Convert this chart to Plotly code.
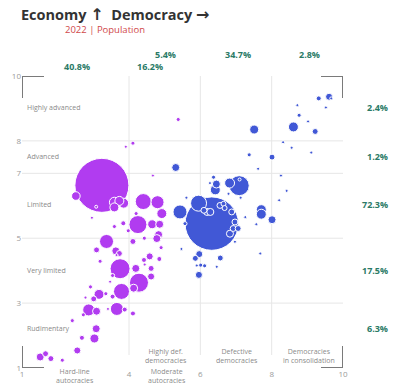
import plotly.graph_objects as go

# ---------------- data ----------------
# Autocracies (purple): x = democracy score, y = economy score, pop = population (millions)
aut_x = [3.24,4.11,3.91,5.38,2.51,3.08,3.59,3.73,3.85,3.59,2.96,4.40,4.80,4.92,4.67,4.20,4.25,4.65,4.86,3.84,
         3.59,3.98,4.43,4.83,4.78,4.11,4.90,3.37,3.09,3.63,3.73,3.65,3.19,3.75,3.54,4.19,4.42,4.58,4.44,4.62,
         4.62,4.85,4.28,4.13,3.79,3.54,3.47,2.92,3.16,3.01,3.35,2.78,2.87,3.09,2.72,3.41,3.66,3.88,4.11,2.41,
         3.08,3.03,2.68,2.55,1.51,1.66,1.81,2.13]
aut_y = [6.63,7.93,7.82,8.66,6.30,5.97,6.11,6.15,6.08,5.95,5.63,6.13,6.11,5.76,6.93,5.76,5.42,5.43,5.43,5.46,
         5.36,5.23,5.00,5.11,4.99,4.90,4.71,4.90,4.64,4.61,4.53,4.48,4.29,4.06,3.85,4.07,4.33,4.44,4.19,4.07,
         3.82,4.36,3.63,3.46,3.36,3.20,3.66,3.50,3.27,3.13,3.29,3.17,2.79,2.75,2.64,2.82,2.82,2.80,2.68,2.46,
         2.21,1.91,1.93,1.54,1.34,1.44,1.29,1.24]
aut_pop = [1412,8,2,8,36,3,48,39,48,39,4,124,82,48,4,8,157,39,31,12,
           8,8,8,31,31,17,8,95,17,31,17,4,8,194,8,31,12,24,4,17,
           24,12,175,31,124,12,2,8,48,17,8,2,70,31,8,4,82,12,12,8,
           31,39,12,24,31,17,17,8]

# Democracies (blue)
dem_x = [6.32,5.31,9.61,9.67,9.32,9.52,8.72,8.77,9.02,8.61,9.22,7.51,8.32,8.56,9.11,7.37,8.01,7.62,8.26,8.42,
         8.21,7.71,7.71,8.01,7.57,7.26,7.09,6.82,7.10,6.45,6.37,6.27,6.42,6.79,7.13,5.61,5.95,5.43,5.57,6.19,
         6.28,6.10,6.55,6.65,6.68,6.88,6.97,6.92,6.83,7.06,6.97,7.68,5.97,5.86,6.56,6.01,6.12,5.90,6.46,5.96,
         5.47]
dem_y = [5.45,7.18,9.36,9.31,9.31,9.03,9.10,8.79,8.60,8.43,8.29,8.35,7.96,7.79,7.64,7.57,7.50,7.14,6.93,6.46,
         6.17,5.88,5.74,5.57,5.43,5.65,6.62,6.70,6.81,6.67,6.88,6.70,6.49,6.37,6.25,6.25,6.08,5.81,5.45,5.81,
         5.81,5.86,6.01,6.06,5.93,5.81,5.50,5.30,5.14,5.30,4.89,4.53,4.51,4.38,4.39,4.17,4.15,4.16,4.12,3.87,
         4.67]
dem_pop = [1380,31,24,2,12,3,2,8,2,48,17,39,4,1.2,4,8,17,2,2,1.2,
           2,48,48,31,2,2,194,48,4,31,8,4,48,2,2,2,124,95,8,24,
           24,17,17,12,12,17,17,17,24,17,2,1.2,24,17,17,8,8,2,4,24,
           2]

assert len(aut_x) == len(aut_y) == len(aut_pop)
assert len(dem_x) == len(dem_y) == len(dem_pop)

# category boundaries and labels
econ_bounds = [3, 5, 7, 8]
dem_bounds = [4, 6, 8]
econ_labels = ["Highly advanced", "Advanced", "Limited", "Very limited", "Rudimentary"]
econ_label_y = [9.02, 7.52, 6.03, 4.02, 2.22]
econ_pct = ["2.4%", "1.2%", "72.3%", "17.5%", "6.3%"]
regime_labels = ["Hard-line<br>autocracies", "Highly def.<br>democracies", "Moderate<br>autocracies",
                 "Defective<br>democracies", "Democracies<br>in consolidation"]
regime_pct = ["40.8%", "16.2%", "5.4%", "34.7%", "2.8%"]
x_ticks = [1, 4, 6, 8, 10]
y_ticks = [1, 3, 5, 7, 8, 10]

PURPLE = "#b13cf0"
BLUE = "#4158d6"
GRAY = "#8a8a8a"
GREEN = "#2a7a66"
FONT = "Open Sans"

# layout geometry (pixels)
W, H = 400, 391
ML, MR, MT, MB = 17, 57, 76, 21
PW, PH = W - ML - MR, H - MT - MB


def pxx(px):
    return (px - ML) / PW


def pxy(py):
    return (H - MB - py) / PH


def sorted_trace(xs, ys, ps, color):
    order = sorted(range(len(ps)), key=lambda i: -ps[i])
    return go.Scatter(
        x=[xs[i] for i in order], y=[ys[i] for i in order],
        mode="markers",
        marker=dict(size=[ps[i] for i in order], sizemode="area", sizeref=0.968, sizemin=1.5,
                    color=color, opacity=1, line=dict(color="white", width=1)),
        hoverinfo="skip", showlegend=False,
    )


fig = go.Figure()
fig.add_trace(sorted_trace(aut_x, aut_y, aut_pop, PURPLE))
fig.add_trace(sorted_trace(dem_x, dem_y, dem_pop, BLUE))

shapes = []
for v in dem_bounds:
    shapes.append(dict(type="line", xref="x", yref="y", x0=v, x1=v, y0=1.4, y1=10,
                       line=dict(color="#e6e6e6", width=1), layer="below"))
for v in econ_bounds:
    shapes.append(dict(type="line", xref="x", yref="y", x0=1, x1=10, y0=v, y1=v,
                       line=dict(color="#e6e6e6", width=1), layer="below"))
# corner brackets
BL = 22
for cx, cy, dx, dy in [(1, 10, 1, -1), (10, 10, -1, -1), (1, 1, 1, 1), (10, 1, -1, 1)]:
    shapes.append(dict(type="line", xref="x", yref="y", xsizemode="pixel", ysizemode="pixel",
                       xanchor=cx, yanchor=cy, x0=0, x1=dx * BL, y0=0, y1=0,
                       line=dict(color="#7a7a7a", width=2)))
    shapes.append(dict(type="line", xref="x", yref="y", xsizemode="pixel", ysizemode="pixel",
                       xanchor=cx, yanchor=cy, x0=0, x1=0, y0=0, y1=dy * BL,
                       line=dict(color="#7a7a7a", width=2)))

ann = []
# subtitle
ann.append(dict(text="2022 | Population", xref="paper", yref="paper", x=pxx(101), y=pxy(29),
                xanchor="center", yanchor="middle", showarrow=False,
                font=dict(family=FONT, size=9.5, color="#d0484a")))
# economy labels (left) and shares (right)
for lab, yv, pct in zip(econ_labels, econ_label_y, econ_pct):
    ann.append(dict(text=lab, xref="paper", yref="y", x=pxx(20), y=yv, xanchor="left",
                    yanchor="middle", showarrow=False,
                    font=dict(family=FONT, size=7, color=GRAY)))
    ann.append(dict(text="<b>" + pct + "</b>", xref="paper", yref="y", x=pxx(391), y=yv,
                    xanchor="right", yanchor="middle", showarrow=False,
                    font=dict(family=FONT, size=9, color=GREEN)))
# regime labels (bottom)
regime_pos = [(70.8, 378.5), (163.3, 357.5), (164, 378.5), (235, 357.5), (308.7, 357.5)]
for lab, (px, py) in zip(regime_labels, regime_pos):
    ann.append(dict(text=lab, xref="paper", yref="paper", x=pxx(px), y=pxy(py),
                    xanchor="center", yanchor="middle", showarrow=False,
                    font=dict(family=FONT, size=7, color=GRAY)))
# regime shares (top)
pct_pos = [(72.5, 66), (147.5, 66), (163, 54.5), (236, 54.5), (308.7, 54.5)]
for pct, (px, py) in zip(regime_pct, pct_pos):
    ann.append(dict(text="<b>" + pct + "</b>", xref="paper", yref="paper", x=pxx(px), y=pxy(py),
                    xanchor="center", yanchor="middle", showarrow=False,
                    font=dict(family=FONT, size=9, color=GREEN)))

ARROW = "<span style='font-family:DejaVu Sans;font-size:16px'>{}</span>"
title_text = ("<b>Economy\u00a0" + ARROW.format("↑") + "\u00a0\u00a0Democracy\u00a0"
              + ARROW.format("→") + "</b>")

fig.update_layout(
    width=W, height=H,
    margin=dict(l=ML, r=MR, t=MT, b=MB, pad=0),
    paper_bgcolor="white", plot_bgcolor="white",
    title=dict(text=title_text, x=21 / W, xanchor="left",
               y=1 - 15 / H, yanchor="middle",
               font=dict(family=FONT, size=14.5, color="#333333")),
    xaxis=dict(range=[1, 10], tickvals=x_ticks, showgrid=False, zeroline=False, showline=False,
               ticks="", tickfont=dict(family=FONT, size=8, color="#9a9a9a")),
    yaxis=dict(range=[1, 10], tickvals=y_ticks, showgrid=False, zeroline=False, showline=False,
               ticks="", tickfont=dict(family=FONT, size=8, color="#9a9a9a")),
    shapes=shapes, annotations=ann,
)

fig.write_html("out.html", config={"displayModeBar": False},
               post_script="document.body.style.margin='0';")
